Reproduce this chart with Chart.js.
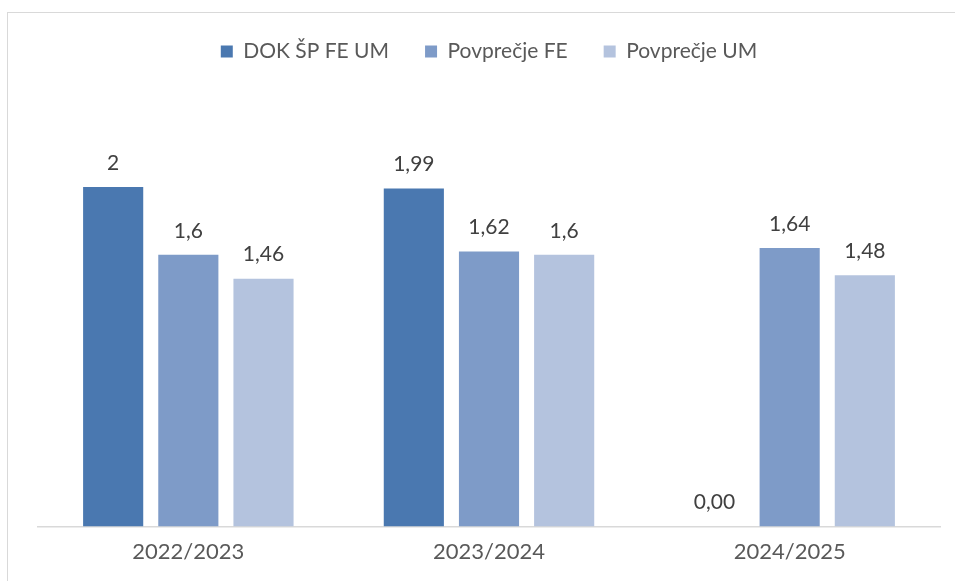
<!DOCTYPE html>
<html>
<head>
<meta charset="utf-8">
<script src="https://cdn.jsdelivr.net/npm/chart.js@4"></script>
<style>
  html, body { margin: 0; padding: 0; background: #fff; }
  #wrap { position: relative; width: 955px; height: 581px; overflow: hidden; }
  #frame { position: absolute; left: 7px; top: 12px; width: 1000px; height: 700px;
           border: 1.5px solid #d9d9d9; box-sizing: border-box; pointer-events: none; }
  canvas { position: absolute; left: 0; top: 0; }
</style>
</head>
<body>
<div id="wrap">
  <div id="frame"></div>
  <canvas id="c" width="955" height="581"></canvas>
</div>
<script>
const categories = ['2022/2023', '2023/2024', '2024/2025'];
const seriesNames = ['DOK ŠP FE UM', 'Povprečje FE', 'Povprečje UM'];
const dokValues = [2, 1.99, 0];
const feValues = [1.6, 1.62, 1.64];
const umValues = [1.46, 1.6, 1.48];
const colors = ['#4A78B0', '#7E9BC8', '#B4C3DE'];

const FONT = 'Lato, "Noto Sans", sans-serif';

function fmt(v) {
  if (v === 0) return '0,00';
  return String(v).replace('.', ',');
}

const dataLabels = {
  id: 'dataLabels',
  afterDatasetsDraw(chart) {
    const ctx = chart.ctx;
    ctx.save();
    ctx.font = '21px ' + FONT;
    ctx.fillStyle = '#404040';
    ctx.textAlign = 'center';
    ctx.textBaseline = 'middle';
    chart.data.datasets.forEach((ds, i) => {
      const meta = chart.getDatasetMeta(i);
      meta.data.forEach((bar, j) => {
        ctx.fillText(fmt(ds.data[j]), bar.x, bar.y - 24);
      });
    });
    ctx.restore();
  }
};

const legendSpace = {
  id: 'legendSpace',
  beforeInit(chart) {
    const orig = chart.legend.fit;
    chart.legend.fit = function () {
      orig.bind(chart.legend)();
      this.height += 30;
    };
  }
};

new Chart(document.getElementById('c'), {
  type: 'bar',
  data: {
    labels: categories,
    datasets: [
      { label: seriesNames[0], data: dokValues, backgroundColor: colors[0] },
      { label: seriesNames[1], data: feValues, backgroundColor: colors[1] },
      { label: seriesNames[2], data: umValues, backgroundColor: colors[2] }
    ]
  },
  options: {
    responsive: false,
    animation: false,
    devicePixelRatio: 1,
    layout: { padding: { left: 38, right: 15, top: 5, bottom: 4 } },
    datasets: { bar: { categoryPercentage: 0.75, barPercentage: 0.8 } },
    plugins: {
      legend: {
        position: 'top',
        labels: {
          boxWidth: 12, boxHeight: 12, padding: 36,
          color: '#595959',
          font: { family: FONT, size: 21 }
        }
      },
      tooltip: { enabled: false }
    },
    scales: {
      x: {
        grid: { display: false, drawTicks: false },
        border: { display: true, color: '#d9d9d9', width: 1.5 },
        ticks: { color: '#595959', padding: 12, font: { family: FONT, size: 22 } }
      },
      y: { display: false, min: 0, max: 2.5 }
    }
  },
  plugins: [dataLabels, legendSpace]
});
</script>
</body>
</html>
